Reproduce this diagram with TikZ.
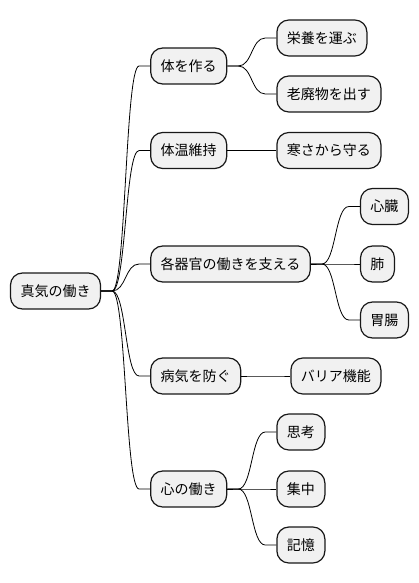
\documentclass[tikz,border=0pt]{standalone}
\usepackage{fontspec}
\setmainfont{Noto Sans CJK JP}
\usepackage{xcolor}
\usepackage{tikz}
\usetikzlibrary{positioning,calc}
\definecolor{mapfill}{HTML}{F1F1F1}
\definecolor{mapline}{HTML}{181818}

\begin{document}
\begin{tikzpicture}[
  x=1pt, y=1pt,
  font=\fontsize{14pt}{16pt}\selectfont,
  topic/.style={rectangle, draw=mapline, fill=mapfill, rounded corners=12pt,
                line width=1.2pt, minimum height=36pt,
                inner xsep=10pt, inner ysep=0pt},
  branch/.style={draw=black, line width=0.8pt,
                 to path={-- ++(11,0) .. controls +(14,0) and +(-14,0) .. ($(\tikztotarget)+(-11,0)$) -- (\tikztotarget)}}
]
\useasboundingbox (0,0) rectangle (418,-583);

% --- Root ---
\node[topic] (root) at (55.5,-291) {真気の働き};

% --- First level ---
\node[topic, right=49pt of root, yshift=225pt] (build) {体を作る};
\node[topic, right=49pt of root, yshift=140.5pt] (warm) {体温維持};
\node[topic, right=49pt of root, yshift=27pt] (organs) {各器官の働きを支える};
\node[topic, right=49pt of root, yshift=-85pt] (guard) {病気を防ぐ};
\node[topic, right=49pt of root, yshift=-198pt] (mind) {心の働き};

% --- Second level ---
\node[topic, right=49pt of build, yshift=28pt] (carry) {栄養を運ぶ};
\node[topic, right=49pt of build, yshift=-28pt] (waste) {老廃物を出す};
\node[topic, right=49pt of warm] (cold) {寒さから守る};
\node[topic, right=49pt of organs, yshift=57.5pt] (heart) {心臓};
\node[topic, right=49pt of organs] (lung) {肺};
\node[topic, right=49pt of organs, yshift=-56pt] (gut) {胃腸};
\node[topic, right=49pt of guard] (barrier) {バリア機能};
\node[topic, right=49pt of mind, yshift=57pt] (think) {思考};
\node[topic, right=49pt of mind] (focus) {集中};
\node[topic, right=49pt of mind, yshift=-56pt] (memory) {記憶};

% --- Branches ---
\draw[branch] (root.east) to (build.west);
\draw[branch] (root.east) to (warm.west);
\draw[branch] (root.east) to (organs.west);
\draw[branch] (root.east) to (guard.west);
\draw[branch] (root.east) to (mind.west);
\draw[branch] (build.east) to (carry.west);
\draw[branch] (build.east) to (waste.west);
\draw[branch] (warm.east) to (cold.west);
\draw[branch] (organs.east) to (heart.west);
\draw[branch] (organs.east) to (lung.west);
\draw[branch] (organs.east) to (gut.west);
\draw[branch] (guard.east) to (barrier.west);
\draw[branch] (mind.east) to (think.west);
\draw[branch] (mind.east) to (focus.west);
\draw[branch] (mind.east) to (memory.west);

\end{tikzpicture}
\end{document}
